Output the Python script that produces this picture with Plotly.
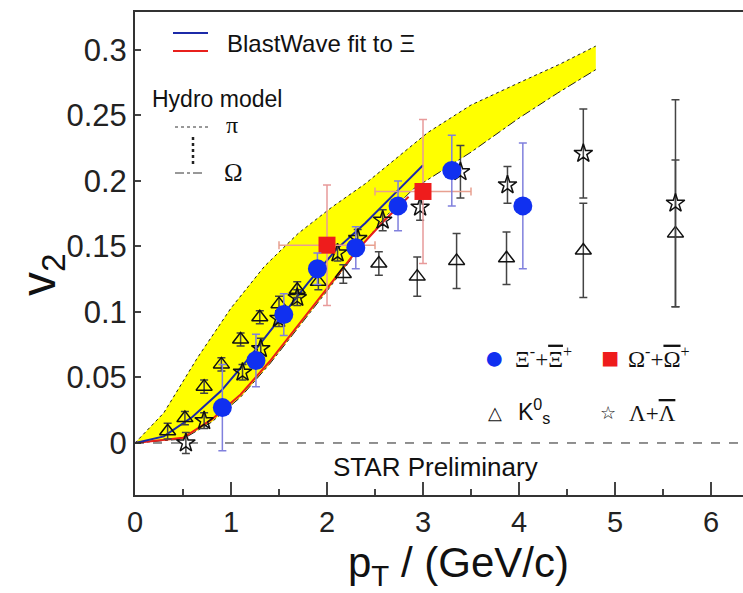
import plotly.graph_objects as go

# ---------------- data ----------------
xi_x = [0.91, 1.26, 1.55, 1.90, 2.30, 2.74, 3.30, 4.04]
xi_y = [0.027, 0.063, 0.098, 0.133, 0.149, 0.181, 0.208, 0.181]
xi_err = [0.033, 0.020, 0.016, 0.012, 0.016, 0.019, 0.027, 0.048]

om_x = [2.0, 3.0]
om_y = [0.151, 0.192]
om_ey = [0.046, 0.055]
om_ex = [0.5, 0.5]

k0_x = [0.34, 0.52, 0.72, 0.90, 1.10, 1.30, 1.50, 1.69, 1.91, 2.17, 2.54, 2.94, 3.35, 3.87, 4.67, 5.63]
k0_y = [0.009, 0.019, 0.043, 0.060, 0.079, 0.096, 0.106, 0.117, 0.123, 0.129, 0.137, 0.127, 0.139, 0.141, 0.147, 0.160]
k0_err = [0.006, 0.005, 0.005, 0.005, 0.005, 0.005, 0.006, 0.006, 0.006, 0.007, 0.009, 0.015, 0.021, 0.020, 0.036, 0.056]

lam_x = [0.53, 0.72, 1.12, 1.31, 1.50, 1.69, 2.11, 2.32, 2.58, 2.97, 3.39, 3.88, 4.67, 5.63]
lam_y = [0.000, 0.017, 0.054, 0.072, 0.095, 0.111, 0.145, 0.156, 0.170, 0.180, 0.207, 0.197, 0.221, 0.183]
lam_err = [0.008, 0.006, 0.006, 0.008, 0.006, 0.006, 0.006, 0.007, 0.008, 0.010, 0.020, 0.014, 0.034, 0.079]

# Hydro band: pion (upper, dotted) and Omega (lower, dash-dot)
hyd_pi_x = [0, 0.3, 0.65, 1.0, 1.35, 1.7, 2.05, 2.4, 3.05, 3.5, 4.0, 4.42, 4.8]
hyd_pi_y = [0, 0.023, 0.065, 0.103, 0.135, 0.160, 0.180, 0.198, 0.237, 0.258, 0.275, 0.289, 0.303]
hyd_om_x = [0, 0.5, 0.8, 1.1, 1.4, 1.7, 2.0, 2.3, 2.6, 2.9, 3.2, 3.5, 4.0, 4.4, 4.8]
hyd_om_y = [0, 0.003, 0.016, 0.035, 0.060, 0.088, 0.116, 0.145, 0.172, 0.194, 0.208, 0.222, 0.248, 0.267, 0.285]

# BlastWave fits
bw_blue_x = [0, 0.3, 0.6, 0.9, 1.2, 1.5, 1.8, 2.1, 2.4, 2.7, 3.0]
bw_blue_y = [0, 0.005, 0.020, 0.040, 0.066, 0.094, 0.122, 0.148, 0.168, 0.190, 0.212]
bw_red_x = [0, 0.5, 0.8, 1.1, 1.4, 1.7, 2.0, 2.3, 2.6, 2.85]
bw_red_y = [0, 0.004, 0.018, 0.037, 0.062, 0.090, 0.118, 0.146, 0.170, 0.188]

x_ticks = [0, 1, 2, 3, 4, 5, 6]
y_ticks = [0, 0.05, 0.1, 0.15, 0.2, 0.25, 0.3]
y_tick_text = ["0", "0.05", "0.1", "0.15", "0.2", "0.25", "0.3"]

# ---------------- layout geometry ----------------
W, H = 743, 593
L, R, T, B = 135, 0, 12, 98
PW, PH = W - L - R, H - T - B


def px(x):
    return (x - L) / PW


def py(y):
    return (H - B - y) / PH


FONT = "Arial, Liberation Sans, sans-serif"
SERIF = "Liberation Serif, Times New Roman, serif"

fig = go.Figure()

# hydro band
fig.add_trace(go.Scatter(x=hyd_om_x, y=hyd_om_y, mode="lines",
                         line=dict(color="#222", width=1, dash="dashdot"),
                         showlegend=False, hoverinfo="skip"))
fig.add_trace(go.Scatter(x=hyd_pi_x, y=hyd_pi_y, mode="lines", fill="tonexty",
                         fillcolor="#ffff00",
                         line=dict(color="#222", width=1, dash="dot"),
                         showlegend=False, hoverinfo="skip"))

# blast wave fits
fig.add_trace(go.Scatter(x=bw_red_x, y=bw_red_y, mode="lines",
                         line=dict(color="#e8201c", width=2), showlegend=False))
fig.add_trace(go.Scatter(x=bw_blue_x, y=bw_blue_y, mode="lines",
                         line=dict(color="#1c2aa8", width=2), showlegend=False))

# K0s
fig.add_trace(go.Scatter(x=k0_x, y=k0_y, mode="markers",
                         marker=dict(symbol="triangle-up-open", size=14,
                                     color="#111", line=dict(width=1.5)),
                         error_y=dict(type="data", array=k0_err, color="#444",
                                      thickness=1.5, width=4),
                         showlegend=False))
# Lambda
fig.add_trace(go.Scatter(x=lam_x, y=lam_y, mode="markers",
                         marker=dict(symbol="star-open", size=14,
                                     color="#111", line=dict(width=1.5)),
                         error_y=dict(type="data", array=lam_err, color="#444",
                                      thickness=1.5, width=4),
                         showlegend=False))
# Omega
fig.add_trace(go.Scatter(x=om_x, y=om_y, mode="markers",
                         marker=dict(symbol="square", size=17, color="#ee1c1c"),
                         error_y=dict(type="data", array=om_ey, color="#e89a9a",
                                      thickness=1.5, width=4),
                         error_x=dict(type="data", array=om_ex, color="#e8a090",
                                      thickness=1.5, width=4),
                         showlegend=False))
# Xi
fig.add_trace(go.Scatter(x=xi_x, y=xi_y, mode="markers",
                         marker=dict(symbol="circle", size=19, color="#1030f0"),
                         error_y=dict(type="data", array=xi_err, color="#8080dd",
                                      thickness=1.5, width=4),
                         showlegend=False))

shapes = []
# zero line
shapes.append(dict(type="line", xref="paper", yref="y", x0=0, x1=1, y0=0, y1=0,
                   line=dict(color="#222", width=1, dash="dash"), layer="above"))
# BlastWave legend lines
shapes.append(dict(type="line", xref="paper", yref="paper", x0=px(173), x1=px(208),
                   y0=py(33), y1=py(33), line=dict(color="#1c2aa8", width=2)))
shapes.append(dict(type="line", xref="paper", yref="paper", x0=px(173), x1=px(208),
                   y0=py(51), y1=py(51), line=dict(color="#e8201c", width=2)))
# Hydro legend lines
shapes.append(dict(type="line", xref="paper", yref="paper", x0=px(175), x1=px(208),
                   y0=py(127), y1=py(127), line=dict(color="#333", width=1, dash="dot")))
shapes.append(dict(type="line", xref="paper", yref="paper", x0=px(193), x1=px(193),
                   y0=py(137), y1=py(164), line=dict(color="#222", width=2.5, dash="dot")))
shapes.append(dict(type="line", xref="paper", yref="paper", x0=px(175), x1=px(205),
                   y0=py(173), y1=py(173), line=dict(color="#333", width=1, dash="dashdot")))

ann = []


def text(s, x, y, size, xanchor="center", color="#111", family=FONT, **kw):
    ann.append(dict(text=s, x=px(x), y=py(y), xref="paper", yref="paper",
                    showarrow=False, xanchor=xanchor, yanchor="middle",
                    font=dict(size=size, color=color, family=family), **kw))


OV = '<span style="text-decoration:overline">{}</span>'

text("BlastWave fit to Ξ", 225, 43, 24, xanchor="left")
text("Hydro model", 150, 99, 23, xanchor="left")
text("π", 224, 125, 24, xanchor="left", family=SERIF)
text("Ω", 222, 172, 25, xanchor="left", family=SERIF)
text("STAR Preliminary", 435, 467, 26)

# bottom-right legend
text("●", 494, 357, 34, color="#1030f0")
text("Ξ<sup>-</sup>+" + OV.format("Ξ") + "<sup>+</sup>", 513, 357, 23,
     xanchor="left", family=SERIF)
text("■", 610, 357, 30, color="#ee1c1c")
text("Ω<sup>-</sup>+" + OV.format("Ω") + "<sup>+</sup>", 626, 357, 23,
     xanchor="left", family=SERIF)
text("△", 495, 413, 18)
text("K<sup>0</sup><sub>s</sub>", 516, 411, 23, xanchor="left")
text("☆", 608, 413, 18)
text("Λ+" + OV.format("Λ"), 627, 413, 23, xanchor="left", family=SERIF)

# axis titles
text("v<sub>2</sub>", 42, 275, 48, textangle=-90)
text("p<sub>T</sub> / (GeV/c)", 458, 565, 42)

fig.update_layout(
    width=W, height=H,
    margin=dict(l=L, r=R, t=T, b=B, pad=0),
    paper_bgcolor="white", plot_bgcolor="white",
    shapes=shapes, annotations=ann,
    font=dict(family=FONT, color="#222"),
    xaxis=dict(range=[0, PW / 96.0], tickvals=x_ticks, ticktext=[str(v) for v in x_ticks],
               ticks="inside", ticklen=13, tickwidth=1.5, tickcolor="#444",
               showline=True, linecolor="#333", linewidth=2, mirror=True,
               showgrid=False, zeroline=False,
               tickfont=dict(size=29, family=FONT, color="#222"),
               minor=dict(ticks="inside", ticklen=6, dtick=0.5, tickcolor="#444",
                          tickwidth=1.5, showgrid=False)),
    yaxis=dict(range=[-0.0397, 0.329], tickvals=y_ticks, ticktext=y_tick_text,
               ticks="inside", ticklen=6, tickwidth=1.5, tickcolor="#444",
               showline=True, linecolor="#333", linewidth=2, mirror=False,
               showgrid=False, zeroline=False,
               tickfont=dict(size=31, family=FONT, color="#222")),
)

fig.write_html("out.html")
